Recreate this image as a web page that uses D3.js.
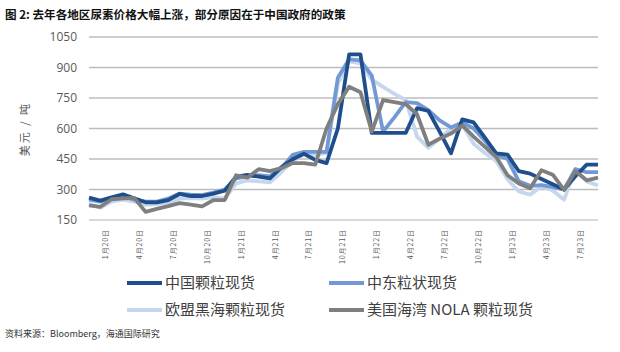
<!DOCTYPE html>
<html>
<head>
<meta charset="utf-8">
<script src="https://cdn.jsdelivr.net/npm/d3@7"></script>
<style>
  body { margin: 0; background: #fff; }
  svg { display: block; font-family: "Noto Sans CJK SC", "Noto Sans", sans-serif; }
</style>
</head>
<body>
<script>
// monthly points, Dec 2019 .. Sep 2023 (46 points)
const chinaGranular = [260, 245, 262, 276, 257, 237, 237, 248, 278, 268, 268, 280, 294, 363, 372, 363, 355, 409, 449, 476, 446, 430, 600, 965, 965, 578, 578, 578, 578, 700, 686, 585, 478, 645, 630, 555, 478, 472, 390, 378, 352, 326, 300, 365, 422, 422];
const meGranular = [250, 240, 255, 265, 250, 240, 240, 255, 280, 275, 272, 285, 300, 355, 365, 370, 365, 405, 470, 485, 485, 485, 850, 940, 935, 860, 585, 655, 730, 725, 690, 640, 605, 630, 600, 540, 470, 450, 340, 318, 322, 312, 300, 400, 385, 385];
const euBlackSea = [230, 210, 240, 250, 240, 225, 228, 235, 255, 258, 255, 262, 255, 330, 345, 340, 335, 385, 440, 475, 470, 480, 820, 930, 920, 840, 805, 770, 740, 560, 505, 550, 600, 620, 525, 480, 440, 350, 290, 275, 315, 295, 250, 400, 340, 320];
const usNola = [222, 215, 252, 256, 259, 190, 205, 218, 233, 226, 217, 248, 248, 370, 358, 400, 390, 405, 430, 430, 422, 600, 720, 805, 778, 585, 740, 730, 720, 670, 520, 550, 575, 615, 560, 510, 460, 370, 330, 306, 395, 373, 298, 390, 345, 358];

const seriesNames = ['中国颗粒现货', '中东粒状现货', '欧盟黑海颗粒现货', '美国海湾 NOLA 颗粒现货'];
const seriesColors = ['#1f4e8c', '#7399d4', '#c6d6ef', '#7f7f7f'];
const seriesValues = [chinaGranular, meGranular, euBlackSea, usNola];

const yTicks = [150, 300, 450, 600, 750, 900, 1050];
const xTickLabels = ['1月20日', '4月20日', '7月20日', '10月20日', '1月21日', '4月21日', '7月21日', '10月21日',
                     '1月22日', '4月22日', '7月22日', '10月22日', '1月23日', '4月23日', '7月23日'];
// month offset of each label from the first point (Dec 2019)
const xTickMonths = xTickLabels.map((d, i) => 1 + 3 * i);

const width = 620;
const height = 352;

const svg = d3.select('body')
    .append('svg')
    .attr('width', width)
    .attr('height', height);

// title
svg.append('text')
    .attr('x', 5)
    .attr('y', 19)
    .attr('font-size', 11.6)
    .attr('font-weight', 'bold')
    .attr('fill', '#111')
    .text('图 2:  去年各地区尿素价格大幅上涨，部分原因在于中国政府的政策');

const x = d3.scaleLinear()
    .domain([0, chinaGranular.length - 1])
    .range([89, 598]);

const y = d3.scaleLinear()
    .domain([150, 1050])
    .range([220, 37]);

// gridlines
svg.append('g')
    .selectAll('line')
    .data(yTicks)
    .enter()
    .append('line')
    .attr('x1', x.range()[0])
    .attr('x2', x.range()[1])
    .attr('y1', d => y(d))
    .attr('y2', d => y(d))
    .attr('stroke', d => d === 150 ? '#d9d9d9' : '#bcbcbc')
    .attr('stroke-width', d => d === 150 ? 2 : 1.4);

// y tick labels
svg.append('g')
    .selectAll('text')
    .data(yTicks)
    .enter()
    .append('text')
    .attr('x', 77)
    .attr('y', d => y(d))
    .attr('dy', '0.36em')
    .attr('text-anchor', 'end')
    .attr('font-family', '"Open Sans", sans-serif')
    .attr('font-size', 12)
    .attr('fill', '#595959')
    .text(d => d);

// y axis title
svg.append('text')
    .attr('transform', 'translate(29,129) rotate(-90)')
    .attr('text-anchor', 'middle')
    .attr('font-size', 11)
    .attr('letter-spacing', 2)
    .attr('fill', '#595959')
    .text('美元 / 吨');

// x tick labels, rotated
svg.append('g')
    .selectAll('text')
    .data(xTickLabels)
    .enter()
    .append('text')
    .attr('transform', (d, i) => `translate(${x(xTickMonths[i] + 0.45)},229) rotate(-90)`)
    .attr('dy', '0.35em')
    .attr('text-anchor', 'end')
    .attr('font-size', 7)
    .attr('letter-spacing', 0.9)
    .attr('fill', '#595959')
    .text(d => d);

// lines: EU first, then Middle East, China, US NOLA on top
const line = d3.line()
    .x((d, i) => x(i))
    .y(d => y(d));

const drawOrder = [2, 1, 0, 3];
svg.append('g')
    .selectAll('path')
    .data(drawOrder)
    .enter()
    .append('path')
    .attr('d', k => line(seriesValues[k]))
    .attr('fill', 'none')
    .attr('stroke', k => seriesColors[k])
    .attr('stroke-width', 3.8)
    .attr('stroke-linejoin', 'round');

// legend
const legendPos = [[127, 283], [329, 283], [127, 310], [329, 310]];
const legend = svg.append('g')
    .selectAll('g')
    .data(seriesNames)
    .enter()
    .append('g')
    .attr('transform', (d, i) => `translate(${legendPos[i][0]},${legendPos[i][1]})`);

legend.append('line')
    .attr('x1', 0)
    .attr('x2', 35)
    .attr('stroke', (d, i) => seriesColors[i])
    .attr('stroke-width', 4);

legend.append('text')
    .attr('x', 38)
    .attr('dy', '0.36em')
    .attr('font-size', 15)
    .attr('fill', '#404040')
    .text(d => d);

// source
svg.append('text')
    .attr('x', 5)
    .attr('y', 337)
    .attr('font-size', 9)
    .attr('fill', '#333')
    .text('资料来源：Bloomberg，海通国际研究');
</script>
</body>
</html>
